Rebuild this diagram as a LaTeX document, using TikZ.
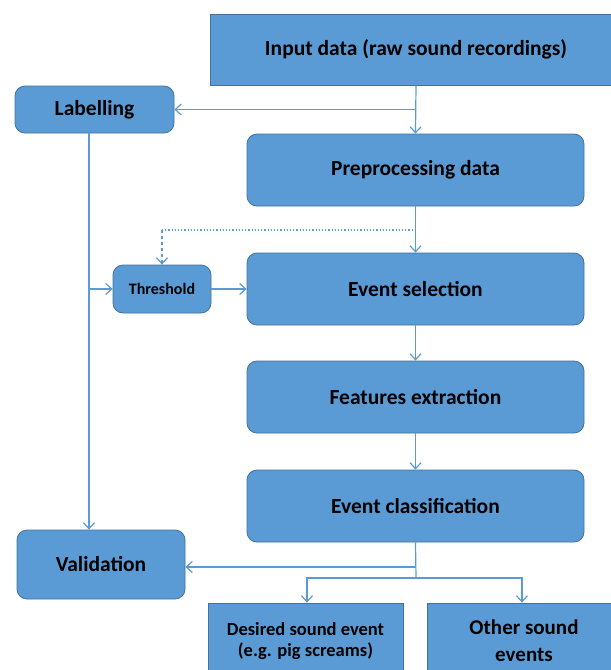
\documentclass[tikz,border=0pt]{standalone}
\usepackage{fontspec}
\setmainfont{Carlito}
\usetikzlibrary{arrows.meta}

\definecolor{boxblue}{HTML}{5B9BD5}
\definecolor{boxline}{HTML}{41719C}

\begin{document}
\begin{tikzpicture}[x=1pt, y=-1pt,
    box/.style={draw=boxline, fill=boxblue, line width=0.8pt, inner sep=0pt,
        align=center, font=\fontsize{21.5}{25}\selectfont\bfseries},
    rbox/.style={box, rounded corners=10pt},
    flow/.style={draw=boxblue, line width=1.2pt, -{Straight Barb[length=6pt,width=11pt]}}]
    \path[use as bounding box, clip] (0,0) rectangle (611,670);
    \node[box, minimum width=412pt, minimum height=71pt] (input) at (416,49.5) {Input data (raw sound recordings)};
    \node[rbox, minimum width=159pt, minimum height=47pt] (label) at (94.5,109.5) {Labelling};
    \node[rbox, minimum width=337pt, minimum height=72pt] (prep) at (415.5,170) {Preprocessing data};
    \node[rbox, minimum width=98pt, minimum height=48pt, font=\fontsize{16}{19}\selectfont\bfseries] (thresh) at (162,289) {Threshold};
    \node[rbox, minimum width=337pt, minimum height=72pt] (evsel) at (415.5,289) {Event selection};
    \node[rbox, minimum width=337pt, minimum height=72pt] (feat) at (415.5,397) {Features extraction};
    \node[rbox, minimum width=337pt, minimum height=72pt] (evcls) at (415.5,506) {Event classification};
    \node[rbox, minimum width=168pt, minimum height=69pt] (valid) at (101,564.5) {Validation};
    \node[box, minimum width=195pt, minimum height=76pt, font=\fontsize{18.5}{21}\selectfont\bfseries] (desired) at (305.5,641) {Desired sound event\\(e.g. pig screams)};
    \node[box, minimum width=194pt, minimum height=76pt, font=\fontsize{21}{27}\selectfont\bfseries] (other) at (524,641) {Other sound\\events};

    \coordinate (lx) at ([xshift=-5.5pt]label.south);
    \coordinate (dsplit) at (416,230);
    \coordinate (vsplit) at (416,567);
    \coordinate (osplit) at (416,578);

    \draw[flow] (input.south) -- (prep.north);
    \draw[flow] (input.south |- label.east) -- (label.east);
    \draw[flow] (prep.south) -- (evsel.north);
    \draw[boxblue, line width=1.2pt, dotted] (dsplit) -- (dsplit -| thresh.north);
    \draw[flow, dashed] (dsplit -| thresh.north) -- (thresh.north);
    \draw[flow] (lx) -- (lx |- valid.north);
    \draw[flow] (lx |- thresh.west) -- (thresh.west);
    \draw[flow] (thresh.east) -- (evsel.west);
    \draw[flow] (evsel.south) -- (feat.north);
    \draw[flow] (feat.south) -- (evcls.north);
    \draw[boxblue, line width=1.2pt] (evcls.south) -- (osplit);
    \draw[flow] (vsplit) -- (vsplit -| valid.east);
    \draw[flow] (osplit) -| ([xshift=1.5pt]desired.north);
    \draw[flow] (osplit) -| ([xshift=-2pt]other.north);
\end{tikzpicture}
\end{document}
